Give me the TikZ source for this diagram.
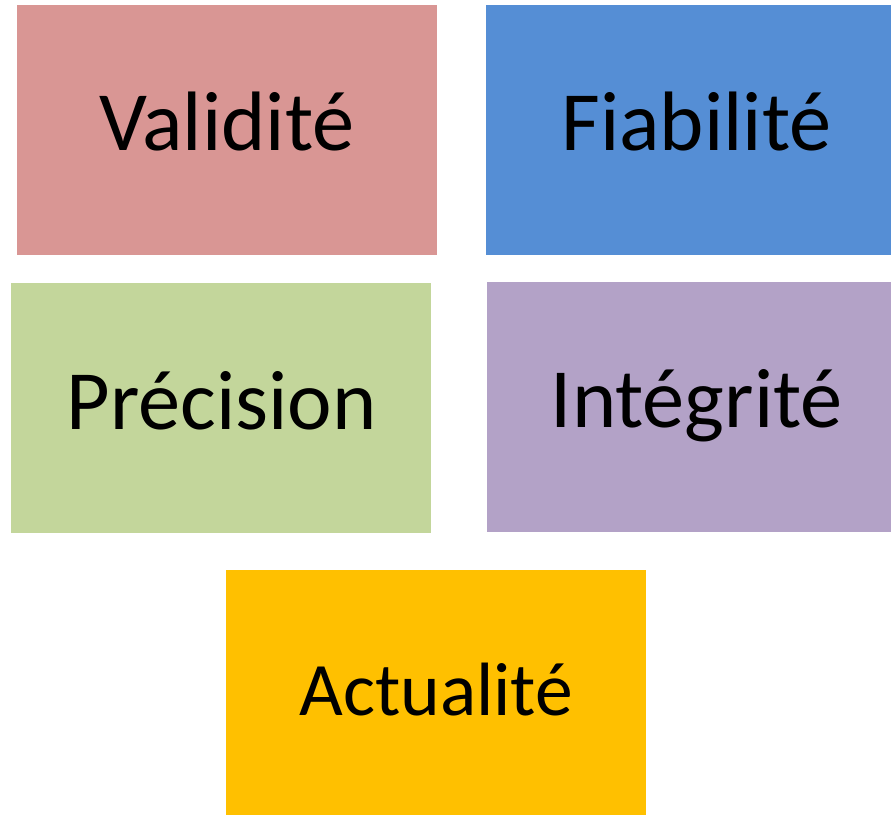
\documentclass[tikz,border=0pt]{standalone}
\usepackage{fontspec}
\setmainfont{Carlito}
\usetikzlibrary{positioning}

\definecolor{valcol}{RGB}{217,150,148}
\definecolor{fiacol}{RGB}{85,142,213}
\definecolor{precol}{RGB}{195,214,155}
\definecolor{intcol}{RGB}{179,162,199}
\definecolor{actcol}{RGB}{255,192,0}

\begin{document}
\begin{tikzpicture}[qualbox/.style={rectangle, minimum width=4.2cm, minimum height=2.5cm, inner sep=0pt, text height=0.62cm, text depth=0.2cm, font=\fontsize{24}{29}\selectfont}]
	\useasboundingbox (0,0) rectangle (8.91,-8.15);

	\node[qualbox, fill=valcol] (val) at (2.27,-1.30) {Validité};
	\node[qualbox, fill=fiacol] (fia) at (6.965,-1.30) {Fiabilité};
	\node[qualbox, fill=precol] (pre) at (2.215,-4.083) {Précision};
	\node[qualbox, fill=intcol] (int) at (6.967,-4.067) {Intégrité};
	\node[qualbox, fill=actcol, font=\fontsize{21.5}{26}\selectfont] (act) at (4.362,-6.95) {Actualité};
\end{tikzpicture}
\end{document}
